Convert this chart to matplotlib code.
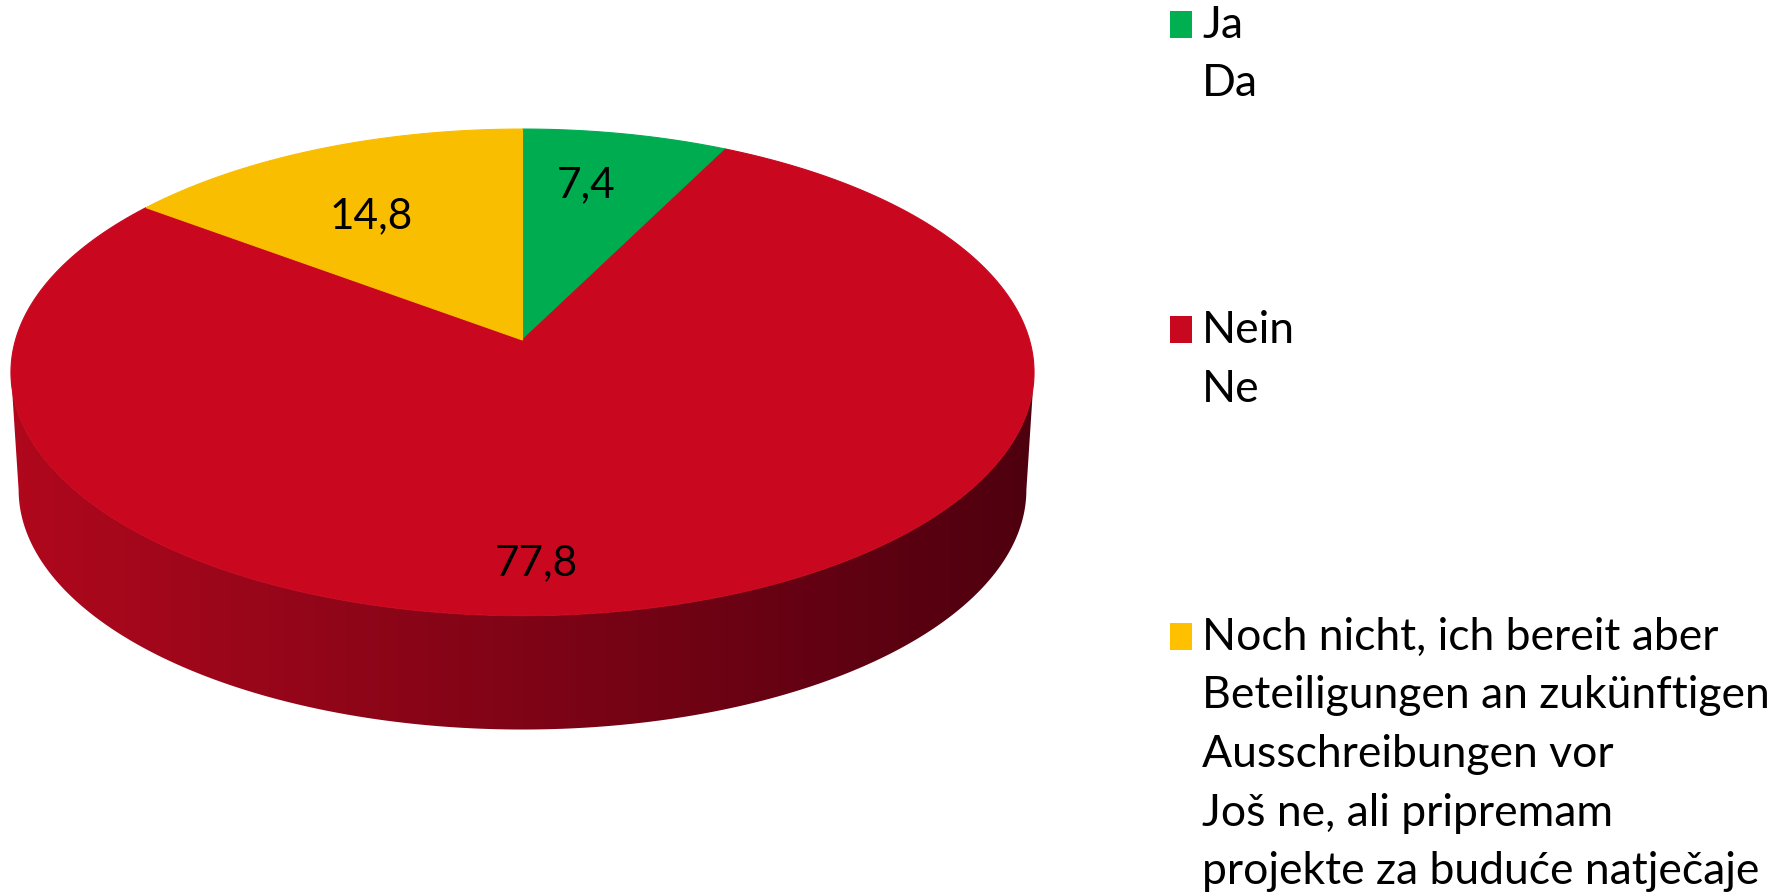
import numpy as np
import matplotlib.pyplot as plt
from matplotlib.patches import Polygon, Rectangle

plt.rcParams["font.family"] = ["Lato", "DejaVu Sans"]

# data
values = [7.4, 77.8, 14.8]
value_labels = ["7,4", "77,8", "14,8"]
legend_labels = [
    ["Ja", "Da"],
    ["Nein", "Ne"],
    ["Noch nicht, ich bereit aber", "Beteiligungen an zukünftigen",
     "Ausschreibungen vor", "Još ne, ali pripremam",
     "projekte za buduće natječaje"],
]
colors = ["#00AC50", "#C90820", "#FABE00"]
legend_colors = ["#00B050", "#C8081F", "#FFC000"]

# geometry of the tilted pie (pixel space)
W, H = 1788, 894
cx, cy = 522.5, 340.0
a, b, k = 507.0, 239.0, 0.133
depth = 118.0
shrink = 0.985


def proj(theta_deg, r=1.0, dy=0.0, s=1.0):
    # circle point -> screen, simple perspective (back of the pie is farther)
    t = np.radians(theta_deg)
    u = r * np.cos(t)
    v = r * np.sin(t)
    d = 1 + k * v
    return cx + s * a * u / d, cy + dy - s * b * v / d


fig = plt.figure(figsize=(W / 100, H / 100), dpi=100)
ax = fig.add_axes([0, 0, 1, 1])
ax.set_xlim(0, W)
ax.set_ylim(H, 0)
ax.axis("off")

# side of the cylinder (only the front, which is the red slice)
t_side = np.degrees(np.arcsin(-k))
t_left, t_right = 180 - t_side, 360 + t_side
arc = np.linspace(t_left, t_right, 300)
xt, yt = proj(arc)
xb, yb = proj(arc[::-1], dy=depth, s=shrink)
side = Polygon(np.column_stack([np.r_[xt, xb], np.r_[yt, yb]]),
               closed=True, facecolor="none", edgecolor="none")
ax.add_patch(side)
c_left = np.array([176, 8, 29]) / 255
c_right = np.array([78, 0, 15]) / 255
frac = np.linspace(0, 1, 400)[None, :, None]
grad = c_left * (1 - frac) + c_right * frac
img = ax.imshow(grad, extent=(xt.min(), xt.max(), yb.max(), yt.min()),
                aspect="auto", interpolation="bilinear", zorder=1)
img.set_clip_path(side)

# top face wedges, clockwise from 12 o'clock
cum = np.r_[0, np.cumsum(values)] / sum(values) * 360
for i, val in enumerate(values):
    th = np.linspace(90 - cum[i], 90 - cum[i + 1], 300)
    x, y = proj(th)
    poly = np.column_stack([np.r_[cx, x], np.r_[cy, y]])
    ax.add_patch(Polygon(poly, closed=True, facecolor=colors[i],
                         edgecolor=colors[i], linewidth=0.8, zorder=2))

# value labels
label_r = [0.72, 0.83, 0.64]
label_turn = [2.3, -11.6, 3.4]
for i, lab in enumerate(value_labels):
    mid = 90 - (cum[i] + cum[i + 1]) / 2 + label_turn[i]
    x, y = proj(mid, r=label_r[i])
    ax.text(x, y, lab, ha="center", va="center", fontsize=30.5,
            color="black", zorder=3)

# legend
first_baselines = [38, 343, 650]
line_step = 58.5
for i, lines in enumerate(legend_labels):
    y0 = first_baselines[i]
    ax.add_patch(Rectangle((1170, y0 - 27), 22, 27,
                           facecolor=legend_colors[i], edgecolor="none"))
    for j, line in enumerate(lines):
        ax.text(1202, y0 + j * line_step, line, ha="left", va="baseline",
                fontsize=32, color="black")

fig.savefig("out.png", dpi=100)
